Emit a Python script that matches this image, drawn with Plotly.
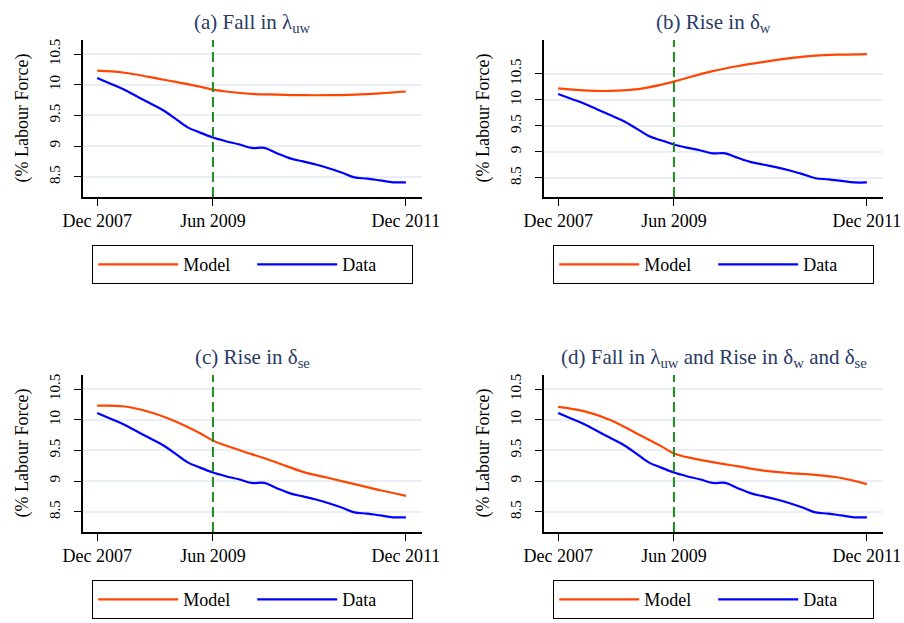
import plotly.graph_objects as go

W, H = 904, 623

# ---- data (months since Dec 2007) ----
months_data = [0, 2, 4, 6, 8, 10, 12, 14, 16, 18, 20, 22, 24, 26, 28, 30, 32, 34, 36, 38, 40, 42, 44, 46, 48]
data_values = [10.11, 10.02, 9.93, 9.82, 9.71, 9.60, 9.46, 9.31, 9.22, 9.14, 9.08, 9.03, 8.97,
               8.97, 8.88, 8.80, 8.75, 8.70, 8.64, 8.57, 8.49, 8.47, 8.44, 8.41, 8.41]

months_model = [0, 4, 8, 12, 16, 18, 20, 24, 28, 32, 36, 40, 44, 48]
model_a = [10.23, 10.20, 10.13, 10.05, 9.97, 9.92, 9.89, 9.85, 9.84, 9.83, 9.83, 9.84, 9.86, 9.89]
model_b = [10.22, 10.18, 10.17, 10.20, 10.29, 10.35, 10.42, 10.55, 10.65, 10.73, 10.80, 10.85, 10.87, 10.88]
model_c = [10.23, 10.22, 10.13, 9.98, 9.78, 9.66, 9.58, 9.44, 9.30, 9.15, 9.05, 8.95, 8.85, 8.76]
model_d = [10.21, 10.14, 10.00, 9.79, 9.57, 9.45, 9.39, 9.31, 9.24, 9.17, 9.13, 9.10, 9.05, 8.95]

titles = ["(a) Fall in λ<sub>uw</sub>",
          "(b) Rise in δ<sub>w</sub>",
          "(c) Rise in δ<sub>se</sub>",
          "(d) Fall in λ<sub>uw</sub> and Rise in δ<sub>w</sub> and δ<sub>se</sub>"]
models = [model_a, model_b, model_c, model_d]
tick_vals = [0, 18, 48]
tick_text = ["Dec 2007", "Jun 2009", "Dec 2011"]
y_ticks = [8.5, 9, 9.5, 10, 10.5]
break_month = 18
y_ranges = [[8.17, 10.73], [8.13, 11.15], [8.17, 10.73], [8.17, 10.73]]

# ---- layout geometry (pixels) ----
panels = [  # x0, x1, y0(top), y1(bottom)
    (83, 422, 40, 197),
    (544, 883, 40, 197),
    (83, 422, 375, 532),
    (544, 883, 375, 532),
]
legend_pos = [(92, 245), (553, 245), (92, 580), (553, 580)]

ORANGE = "#ff4500"
BLUE = "#0000ff"
GREEN = "#1e8c1e"
NAVY = "#2a3a64"
GRID = "#e9eff4"
FONT = "Liberation Serif"

fig = go.Figure()
annotations = []
shapes = []
layout = dict(
    width=W, height=H,
    margin=dict(l=0, r=0, t=0, b=0, autoexpand=False),
    paper_bgcolor="white", plot_bgcolor="white",
    font=dict(family=FONT, size=18, color="black"),
)

for i, (px0, px1, py0, py1) in enumerate(panels):
    n = "" if i == 0 else str(i + 1)
    xa, ya = "x" + n, "y" + n
    leg = "legend" + n
    fig.add_trace(go.Scatter(x=months_model, y=models[i], mode="lines", name="Model",
                             line=dict(color=ORANGE, width=2.2, shape="spline"),
                             xaxis=xa, yaxis=ya, legend=leg))
    fig.add_trace(go.Scatter(x=months_data, y=data_values, mode="lines", name="Data",
                             line=dict(color=BLUE, width=2.2, shape="spline"),
                             xaxis=xa, yaxis=ya, legend=leg))
    layout["xaxis" + n] = dict(
        domain=[px0 / W, px1 / W], anchor=ya, range=[-2.2, 50.5],
        tickvals=tick_vals, ticktext=tick_text, ticks="outside", ticklen=7,
        tickwidth=1.3, tickcolor="black", showgrid=False, zeroline=False,
        showline=True, linecolor="black", linewidth=1.5,
        tickfont=dict(family=FONT, size=18, color="black"),
    )
    layout["yaxis" + n] = dict(
        domain=[1 - py1 / H, 1 - py0 / H], anchor=xa, range=y_ranges[i],
        tickvals=y_ticks, ticks="outside", ticklen=7, tickwidth=1.3, tickcolor="black",
        tickangle=-90, ticklabelstandoff=8,
        showgrid=True, gridcolor=GRID, gridwidth=2, zeroline=False,
        showline=True, linecolor="black", linewidth=1.5,
        tickfont=dict(family=FONT, size=15, color="black"),
    )
    shapes.append(dict(type="line", xref=xa, yref=ya + " domain", x0=break_month, x1=break_month,
                       y0=0, y1=1, line=dict(color=GREEN, width=2, dash="10px,5px")))
    annotations.append(dict(text=titles[i], xref="paper", yref="paper",
                            x=(px0 + px1) / 2 / W, y=1 - (py0 - 17) / H,
                            xanchor="center", yanchor="middle", showarrow=False,
                            font=dict(family=FONT, size=21, color=NAVY)))
    annotations.append(dict(text="(% Labour Force)", xref="paper", yref="paper",
                            x=(px0 - 61) / W, y=1 - (py0 + py1) / 2 / H, textangle=-90,
                            xanchor="center", yanchor="middle", showarrow=False,
                            font=dict(family=FONT, size=18, color="black")))
    lx, ly = legend_pos[i]
    layout[leg] = dict(
        x=lx / W, y=1 - ly / H, xanchor="left", yanchor="top",
        orientation="h", bordercolor="black", borderwidth=1.2,
        bgcolor="white", itemwidth=80, entrywidth=64, entrywidthmode="pixels",
        font=dict(family=FONT, size=18, color="black"),
        itemclick=False, itemdoubleclick=False,
    )

layout["annotations"] = annotations
layout["shapes"] = shapes
layout["showlegend"] = True
fig.update_layout(**layout)

fig.write_html("out.html", config={"displayModeBar": False},
               post_script="document.body.style.margin='0';document.body.style.overflow='hidden';")
